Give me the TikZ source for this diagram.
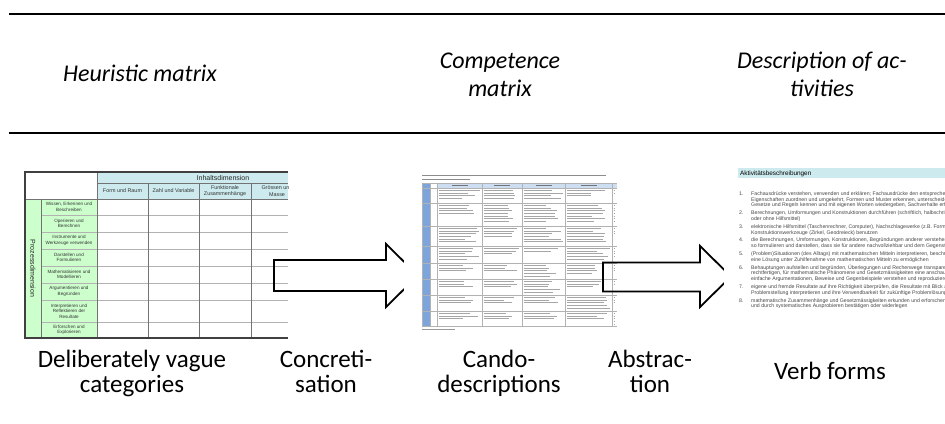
\documentclass[tikz,border=0pt]{standalone}
\usepackage{fontspec}
\setmainfont{Carlito}
\newfontfamily\arialf{Liberation Sans}
\definecolor{cyanc}{RGB}{205,235,238}
\definecolor{greenc}{RGB}{204,255,204}
\definecolor{bluec}{RGB}{125,165,220}
\definecolor{blueh}{RGB}{205,222,242}
\begin{document}
\begin{tikzpicture}[x=1pt,y=-1pt,
  hdr/.style={anchor=base,inner sep=0pt,font=\fontsize{24}{28}\selectfont\itshape},
  lbl/.style={anchor=base,inner sep=0pt,font=\fontsize{25}{30}\selectfont},
  hrule/.style={line width=2pt,black},
  blockarrow/.style={draw=black,line width=1.8pt,line join=miter},
  gridl/.style={draw=black!30,line width=0.6pt},
  gridv/.style={draw=black!55,line width=0.6pt},
  mframe/.style={draw=black!75,line width=1.2pt},
  mtxt/.style={inner sep=0pt,align=center,text=black!80,font=\arialf\fontsize{4.6}{5.4}\selectfont},
  chead/.style={inner sep=0pt,align=center,text=black!80,font=\arialf\fontsize{5.4}{6.2}\selectfont},
  dimtxt/.style={inner sep=0pt,text=black!85,font=\arialf\fontsize{7}{8}\selectfont},
  txtl/.style={draw=black!35,line width=0.8pt},
  ltxt/.style={anchor=mid west,inner sep=0pt,text=black!72,font=\arialf\fontsize{5.2}{5.8}\selectfont},
]
\useasboundingbox (0,0) rectangle (945,423);
\fill[white] (0,0) rectangle (945,423);

% horizontal rules
\draw[hrule] (9,14) -- (945,14);
\draw[hrule] (9,133) -- (945,133);

% headers
\node[hdr] (h1) at (140,81) {Heuristic matrix};
\node[hdr] (h2a) at (500,68) {Competence};
\node[hdr] (h2b) at (500,96) {matrix};
\node[hdr] (h3a) at (822,68) {Description of ac-};
\node[hdr] (h3b) at (822,96) {tivities};

% ---------------- left matrix ----------------
\begin{scope}
\clip (20,165) rectangle (288,342);
\fill[cyanc] (97,172) rectangle (288,199);
\fill[greenc] (25,199) rectangle (97,338);
\foreach \yy in {215,232,249,266,283,300,322}{
  \draw[gridl] (41,\yy) -- (288,\yy);
}
\draw[gridv] (97,183) -- (288,183);
\draw[gridv] (25,199) -- (288,199);
\draw[gridv] (41,199) -- (41,338);
\draw[gridv] (97,172) -- (97,338);
\foreach \xx in {148,199,251}{
  \draw[gridv] (\xx,183) -- (\xx,338);
}
\draw[mframe] (288,172) -- (25,172) -- (25,338) -- (288,338);
\node[dimtxt] (inh) at (223,177.5) {Inhaltsdimension};
\node[chead] (c1) at (122.5,191) {Form und Raum};
\node[chead] (c2) at (173.5,191) {Zahl und Variable};
\node[chead] (c3) at (225,191) {Funktionale\\Zusammenhänge};
\node[chead] (c4) at (277,191) {Grössen und\\Masse};
\node[dimtxt,rotate=-90] (proz) at (33,268.5) {Prozessdimension};
\node[mtxt] (r1) at (69,207) {Wissen, Erkennen und\\Beschreiben};
\node[mtxt] (r2) at (69,223.5) {Operieren und\\Berechnen};
\node[mtxt] (r3) at (69,240.5) {Instrumente und\\Werkzeuge verwenden};
\node[mtxt] (r4) at (69,257.5) {Darstellen und\\Formulieren};
\node[mtxt] (r5) at (69,274.5) {Mathematisieren und\\Modellieren};
\node[mtxt] (r6) at (69,291.5) {Argumentieren und\\Begründen};
\node[mtxt] (r7) at (69,311) {Interpretieren und\\Reflektieren der\\Resultate};
\node[mtxt] (r8) at (69,330) {Erforschen und\\Explorieren};
\end{scope}

% arrow 1 (concretisation)
\draw[blockarrow] (274,260) -- (386,260) -- (386,244) -- (418,275.5) -- (386,307) -- (386,291) -- (274,291) -- cycle;

% ---------------- middle image ----------------
\fill[white] (404,169) rectangle (618,334);
\draw[black!45,line width=0.9pt] (422,175.5) -- (606,175.5);
\draw[black!45,line width=0.6pt] (422,179) -- (470,179);
\fill[blueh] (437,183) rectangle (617,188);
\fill[bluec] (422,183) rectangle (430,326);
\foreach \yy in {183,188,203,226,246,263,279,295,311,326}{
  \draw[gridl] (422,\yy) -- (617,\yy);
}
\foreach \xx in {422,430,437,482,522,565,612}{
  \draw[gridl] (\xx,183) -- (\xx,326);
}
\foreach \xa/\xb in {437/482,482/522,522/565,565/612}{
  \draw[black!55,line width=0.6pt] ({(\xa+\xb)/2-8},185.5) -- ({(\xa+\xb)/2+8},185.5);
}
\pgfmathsetseed{11}
\foreach \xa/\xb in {437/482,482/522,522/565,565/612,612/617}{
  \foreach \ya/\yb in {188/203,203/226,226/246,246/263,263/279,279/295,295/311,311/326}{
    \pgfmathsetmacro{\ys}{\ya+2.6}
    \pgfmathsetmacro{\yt}{\ya+5.2}
    \pgfmathsetmacro{\ye}{\yb-2}
    \pgfmathsetmacro{\cut}{\ya+(\yb-\ya)*(0.45+0.55*rnd)}
    \foreach \yy in {\ys,\yt,...,\ye}{
      \pgfmathsetmacro{\len}{(\xb-\xa-3)*(0.55+0.45*rnd)}
      \ifdim\yy pt<\cut pt
        \draw[txtl] (\xa+1.5,\yy) -- ++(\len,0);
      \fi
    }
  }
}
\draw[black!40,line width=0.6pt] (422,329) -- (455,329);

% arrow 2 (abstraction)
\draw[blockarrow] (603,262.5) -- (700,262.5) -- (700,246) -- (731,276.5) -- (700,307) -- (700,291.5) -- (603,291.5) -- cycle;

% ---------------- right image ----------------
\fill[white] (724,160) rectangle (945,318);
\fill[cyanc] (738,168) rectangle (945,178);
\node[anchor=mid west,inner sep=0pt,font=\arialf\fontsize{6.4}{7}\selectfont] (akt) at (740,173) {Aktivitätsbeschreibungen};
\begin{scope}
\clip (724,160) rectangle (945,318);
\foreach \yy/\nn/\tt [count=\k] in {
  193/1./{Fachausdrücke verstehen, verwenden und erklären; Fachausdrücke den entsprechenden Begriffen,},
  198.8//{Eigenschaften zuordnen und umgekehrt, Formen und Muster erkennen, unterscheiden und benennen,},
  204.6//{Gesetze und Regeln kennen und mit eigenen Worten wiedergeben, Sachverhalte erfassen},
  212.4/2./{Berechnungen, Umformungen und Konstruktionen durchführen (schriftlich, halbschriftlich, mit},
  218.2//{oder ohne Hilfsmittel)},
  226/3./{elektronische Hilfsmittel (Taschenrechner, Computer), Nachschlagewerke (z.B. Formelsammlung),},
  231.8//{Konstruktionswerkzeuge (Zirkel, Geodreieck) benutzen},
  239.6/4./{die Berechnungen, Umformungen, Konstruktionen, Begründungen anderer verstehen und eigene},
  245.4//{so formulieren und darstellen, dass sie für andere nachvollziehbar und dem Gegenstand angemessen sind},
  253.2/5./{(Problem)Situationen (des Alltags) mit mathematischen Mitteln interpretieren, beschreiben, um},
  259//{eine Lösung unter Zuhilfenahme von mathematischen Mitteln zu ermöglichen},
  266.8/6./{Behauptungen aufstellen und begründen, Überlegungen und Rechenwege transparent machen und},
  272.6//{rechtfertigen, für mathematische Phänomene und Gesetzmässigkeiten eine anschauliche Begründung finden,},
  278.4//{einfache Argumentationen, Beweise und Gegenbeispiele verstehen und reproduzieren},
  286.2/7./{eigene und fremde Resultate auf ihre Richtigkeit überprüfen, die Resultate mit Blick auf die},
  292//{Problemstellung interpretieren und ihre Verwendbarkeit für zukünftige Problemlösungen beurteilen},
  299.8/8./{mathematische Zusammenhänge und Gesetzmässigkeiten erkunden und erforschen, Vermutungen formulieren},
  305.6//{und durch systematisches Ausprobieren bestätigen oder widerlegen}}{
  \node[ltxt] (num\k) at (739,\yy) {\nn};
  \node[ltxt] (line\k) at (751,\yy) {\tt};
}
\end{scope}

% ---------------- bottom labels ----------------
\node[lbl] (l1a) at (132,367) {Deliberately vague};
\node[lbl] (l1b) at (132,392) {categories};
\node[lbl] (l2a) at (326,367) {Concreti-};
\node[lbl] (l2b) at (326,392) {sation};
\node[lbl] (l3a) at (499,367) {Cando-};
\node[lbl] (l3b) at (499,392) {descriptions};
\node[lbl] (l4a) at (650,367) {Abstrac-};
\node[lbl] (l4b) at (650,392) {tion};
\node[lbl] (l5) at (830,379) {Verb forms};
\end{tikzpicture}
\end{document}
